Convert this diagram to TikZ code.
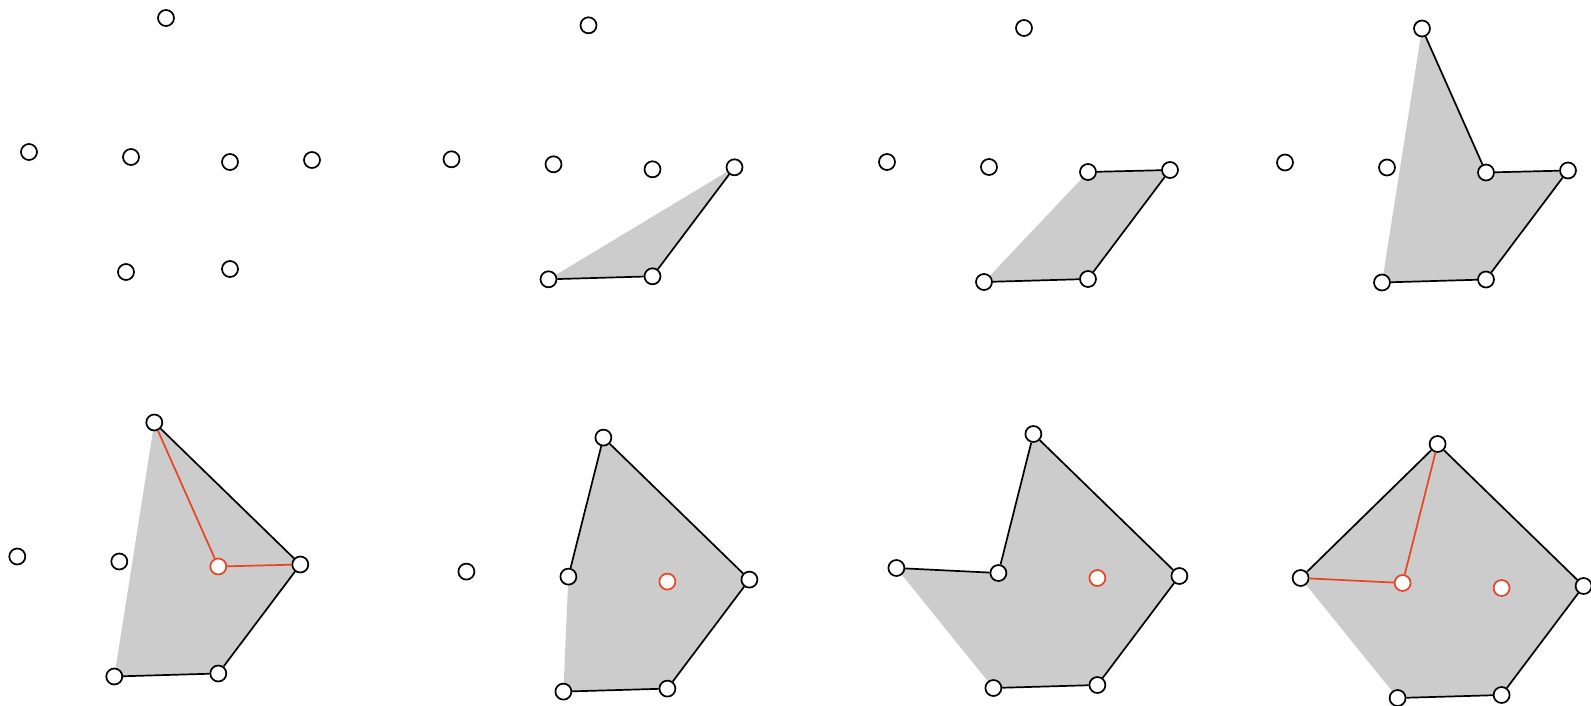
\documentclass[tikz,border=0pt]{standalone}
\usetikzlibrary{backgrounds}
\definecolor{chull}{RGB}{204,204,204}
\definecolor{cred}{RGB}{234,66,36}

\tikzset{
  pt/.style={circle, draw=black, fill=white, line width=1.7pt,
    minimum size=16pt, inner sep=0pt},
  ptA/.style={}, ptB/.style={}, ptC/.style={}, ptD/.style={},
  ptE/.style={}, ptF/.style={}, ptG/.style={},
  redpt/.style={draw=cred},
  hulledge/.style={draw=black, line width=1.7pt},
  rededge/.style={draw=cred, line width=1.7pt},
}

% the seven points of one panel, shifted by (#3,#4)
\newcommand{\pointset}[4][]{%
  \begin{scope}[shift={(#3,#4)}, #1]
    \node[pt, ptA] (#2A) at (166,18) {};
    \node[pt, ptB] (#2B) at (29,152) {};
    \node[pt, ptC] (#2C) at (131,157) {};
    \node[pt, ptD] (#2D) at (230,162) {};
    \node[pt, ptE] (#2E) at (312,160) {};
    \node[pt, ptF] (#2F) at (126,272) {};
    \node[pt, ptG] (#2G) at (230,269) {};
  \end{scope}}

\begin{document}
\begin{tikzpicture}[x=1pt, y=-1pt]
\useasboundingbox (0,0) rectangle (1591,706);

% top row
\pointset{p1}{0}{0}
\pointset{p2}{422.5}{7.3}
\pointset{p3}{858}{10}
\pointset{p4}{1256}{10.5}
% bottom row
\pointset[ptD/.style={redpt}]{p5}{-11.7}{404.5}
\pointset[ptD/.style={redpt}]{p6}{437.4}{419.6}
\pointset[ptD/.style={redpt}]{p7}{867.4}{416}
\pointset[ptC/.style={redpt}, ptD/.style={redpt}]{p8}{1271.6}{426}

\begin{scope}[on background layer]
\fill[chull] (p2F.center) -- (p2G.center) -- (p2E.center) -- cycle;
\fill[chull] (p3F.center) -- (p3G.center) -- (p3E.center) -- (p3D.center) -- cycle;
\fill[chull] (p4F.center) -- (p4G.center) -- (p4E.center) -- (p4D.center)
  -- (p4A.center) -- cycle;
\fill[chull] (p5F.center) -- (p5G.center) -- (p5E.center) -- (p5A.center) -- cycle;
\fill[chull] (p6F.center) -- (p6G.center) -- (p6E.center) -- (p6A.center)
  -- (p6C.center) -- cycle;
\fill[chull] (p7F.center) -- (p7G.center) -- (p7E.center) -- (p7A.center)
  -- (p7C.center) -- (p7B.center) -- cycle;
\fill[chull] (p8F.center) -- (p8G.center) -- (p8E.center) -- (p8A.center)
  -- (p8B.center) -- cycle;
\end{scope}

\draw[hulledge] (p2F) -- (p2G) -- (p2E);
\draw[hulledge] (p3F) -- (p3G) -- (p3E) -- (p3D);
\draw[hulledge] (p4F) -- (p4G) -- (p4E) -- (p4D) -- (p4A);
\draw[hulledge] (p5F) -- (p5G) -- (p5E) -- (p5A);
\draw[rededge] (p5A) -- (p5D) -- (p5E);
\draw[hulledge] (p6F) -- (p6G) -- (p6E) -- (p6A) -- (p6C);
\draw[hulledge] (p7F) -- (p7G) -- (p7E) -- (p7A) -- (p7C) -- (p7B);
\draw[hulledge] (p8F) -- (p8G) -- (p8E) -- (p8A) -- (p8B);
\draw[rededge] (p8B) -- (p8C) -- (p8A);
\end{tikzpicture}
\end{document}
